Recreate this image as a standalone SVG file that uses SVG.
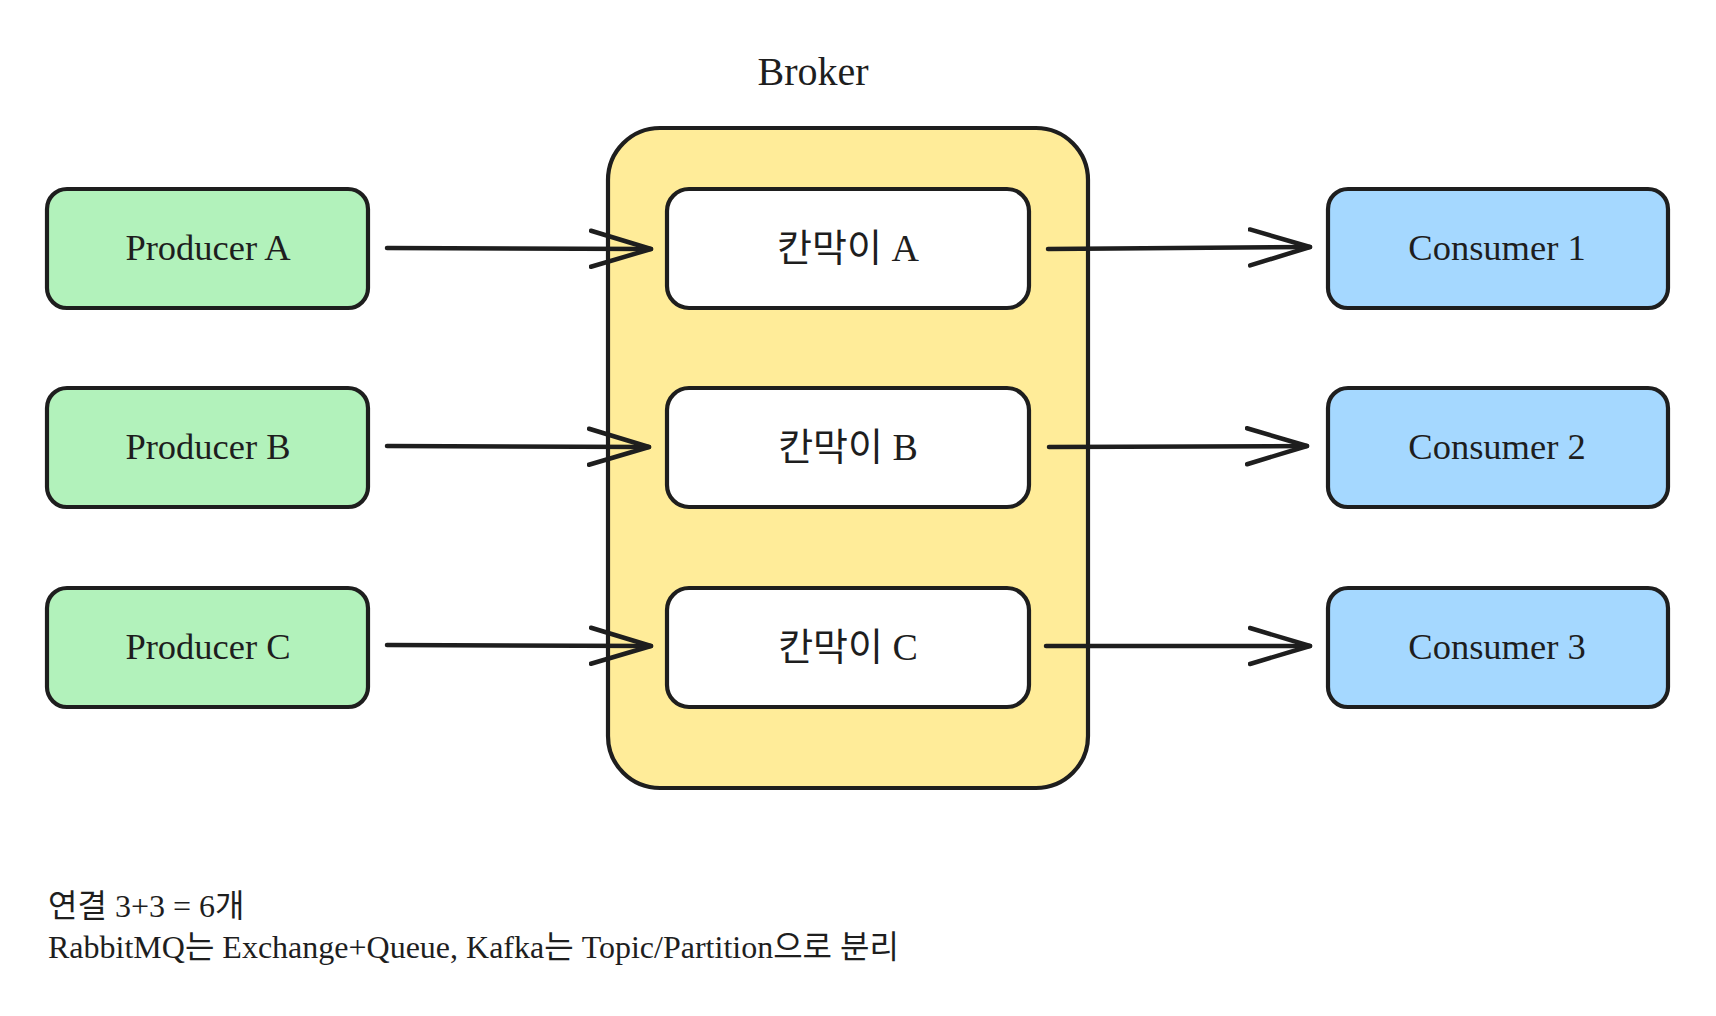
<svg xmlns="http://www.w3.org/2000/svg" width="1716" height="1016" viewBox="0 0 1716 1016">
<defs>
<style>
.box{stroke:#1e1e1e;stroke-width:4.2;}
.prod{fill:#b2f2bb;}
.cons{fill:#a5d8ff;}
.part{fill:#ffffff;}
.broker{fill:#ffec99;}
.lbl{font-family:"Liberation Serif","Noto Sans CJK KR",serif;font-size:36.5px;fill:#1e1e1e;text-anchor:middle;}
.ko{font-size:38px;}
.title{font-size:40px;}
.note{font-family:"Liberation Serif","Noto Sans CJK KR",serif;font-size:32px;fill:#1e1e1e;}
.conn{stroke:#1e1e1e;stroke-width:4.5;fill:none;stroke-linecap:round;stroke-linejoin:round;}
</style>
<marker id="ah" markerWidth="70" markerHeight="50" viewBox="0 0 70 50" refX="62" refY="25" markerUnits="userSpaceOnUse" orient="auto">
<path d="M2,7 L62,25 L2,43" fill="none" stroke="#1e1e1e" stroke-width="4.5" stroke-linecap="round" stroke-linejoin="round"/>
</marker>
</defs>
<rect width="1716" height="1016" fill="#ffffff"/>

<g id="broker">
<rect class="box broker" x="608" y="128" width="480" height="660" rx="52"/>
<text class="lbl title" x="813" y="85">Broker</text>
</g>

<g id="producer-a"><rect class="box prod" x="47" y="189" width="321" height="119" rx="20"/><text class="lbl" x="208" y="260">Producer A</text></g>
<g id="producer-b"><rect class="box prod" x="47" y="388" width="321" height="119" rx="20"/><text class="lbl" x="208" y="459">Producer B</text></g>
<g id="producer-c"><rect class="box prod" x="47" y="588" width="321" height="119" rx="20"/><text class="lbl" x="208" y="659">Producer C</text></g>

<g id="partition-a"><rect class="box part" x="667" y="189" width="362" height="119" rx="22"/><text class="lbl ko" x="848" y="261">칸막이 A</text></g>
<g id="partition-b"><rect class="box part" x="667" y="388" width="362" height="119" rx="22"/><text class="lbl ko" x="848" y="460">칸막이 B</text></g>
<g id="partition-c"><rect class="box part" x="667" y="588" width="362" height="119" rx="22"/><text class="lbl ko" x="848" y="660">칸막이 C</text></g>

<g id="consumer-1"><rect class="box cons" x="1328" y="189" width="340" height="119" rx="20"/><text class="lbl" x="1497" y="260">Consumer 1</text></g>
<g id="consumer-2"><rect class="box cons" x="1328" y="388" width="340" height="119" rx="20"/><text class="lbl" x="1497" y="459">Consumer 2</text></g>
<g id="consumer-3"><rect class="box cons" x="1328" y="588" width="340" height="119" rx="20"/><text class="lbl" x="1497" y="659">Consumer 3</text></g>

<g id="connectors">
<path class="conn" d="M387,248 L651,249" marker-end="url(#ah)"/>
<path class="conn" d="M387,446 L649,447" marker-end="url(#ah)"/>
<path class="conn" d="M387,645 L651,646" marker-end="url(#ah)"/>
<path class="conn" d="M1048,249 L1310,247" marker-end="url(#ah)"/>
<path class="conn" d="M1049,447 L1307,446" marker-end="url(#ah)"/>
<path class="conn" d="M1046,646 L1310,646" marker-end="url(#ah)"/>
</g>

<g id="notes">
<text class="note" x="48" y="917">연결 3+3 = 6개</text>
<text class="note" x="48" y="958">RabbitMQ는 Exchange+Queue, Kafka는 Topic/Partition으로 분리</text>
</g>
</svg>
